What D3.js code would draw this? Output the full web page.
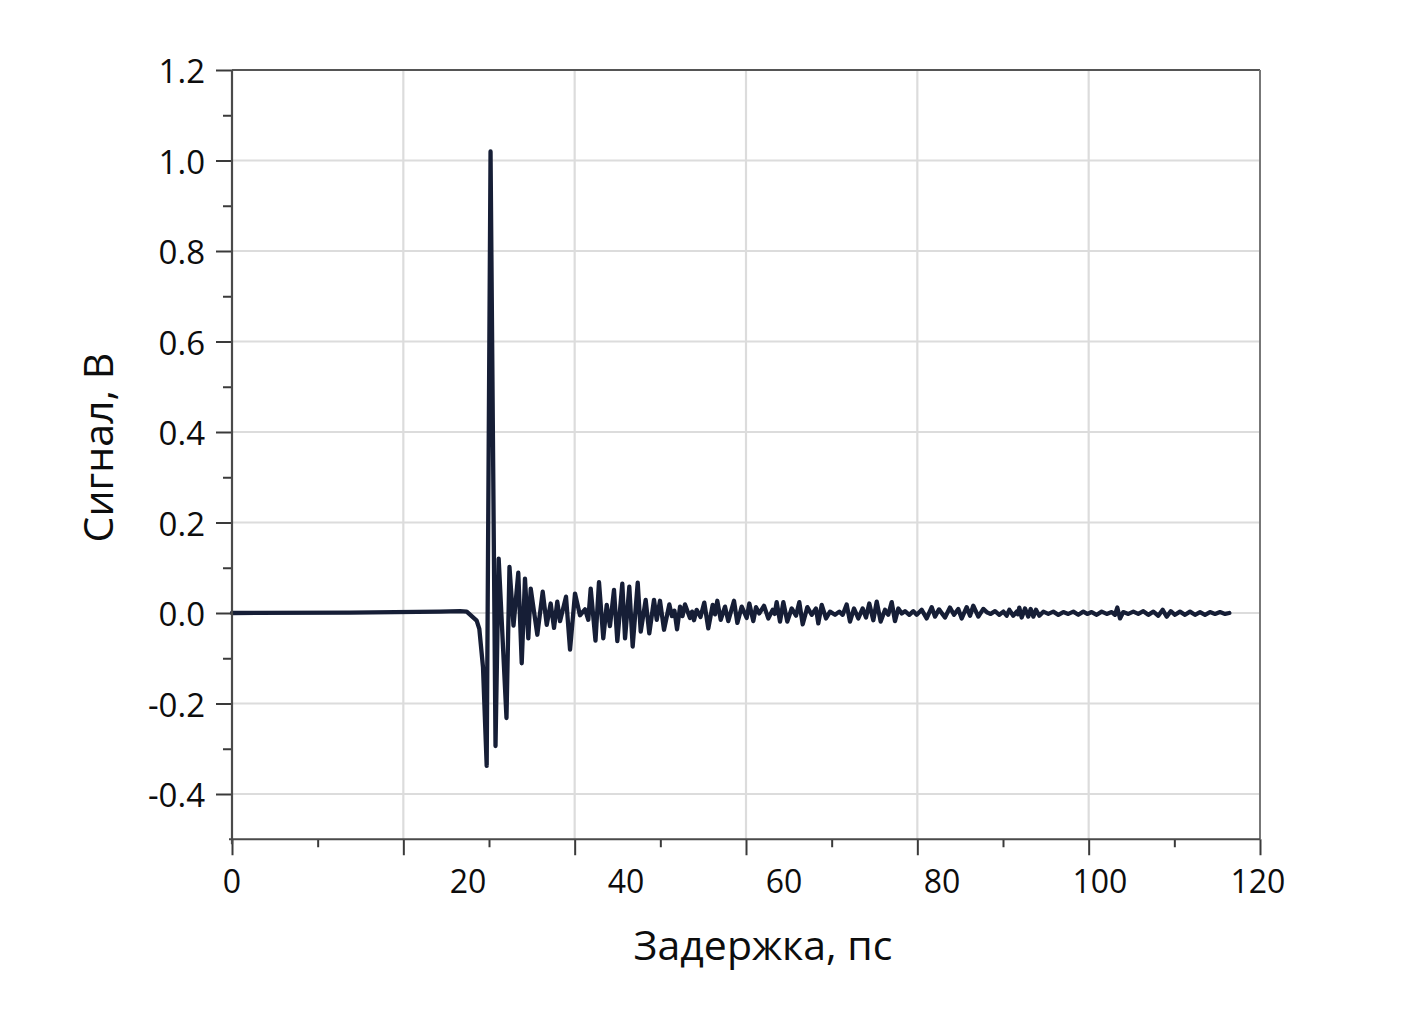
<!DOCTYPE html>
<html>
<head>
<meta charset="utf-8">
<script src="https://cdn.jsdelivr.net/npm/d3@7"></script>
<style>
  html, body { margin: 0; padding: 0; background: #ffffff; }
  svg { display: block; }
  text { font-family: "Open Sans", "Noto Sans", "DejaVu Sans", sans-serif; fill: #0d0d0d; }
</style>
</head>
<body>
<svg id="chart" width="1412" height="1018"></svg>
<script>
// ---- data ----
const xMajorTicks = [0, 20, 40, 60, 80, 100, 120];
const xMinorTicks = [10, 30, 50, 70, 90, 110];
const xTickLabels = ["0", "20", "40", "60", "80", "100", "120"];
const yMajorTicks = [-0.4, -0.2, 0, 0.2, 0.4, 0.6, 0.8, 1.0, 1.2];
const yMinorTicks = [-0.3, -0.1, 0.1, 0.3, 0.5, 0.7, 0.9, 1.1];
const yTickLabels = ["-0.4", "-0.2", "0.0", "0.2", "0.4", "0.6", "0.8", "1.0", "1.2"];
const xTitle = "Задержка, пс";
const yTitle = "Сигнал, В";

const delay = [
  0, 13.77, 24.28, 26.61, 27.40, 28.56, 28.87, 29.30, 29.73, 30.18,
  30.76, 31.13, 32.04, 32.39, 32.86, 33.42, 33.82, 34.20, 34.59, 34.87,
  35.64, 36.27, 36.74, 37.20, 37.59, 37.97, 38.29, 38.99, 39.46, 40.04,
  40.62, 41.21, 41.59, 41.87, 42.43, 42.84, 43.34, 43.74, 44.12, 44.59,
  44.98, 45.56, 45.88, 46.38, 46.77, 47.36, 47.71, 48.29, 48.71, 49.26,
  49.58, 49.96, 50.43, 51.05, 51.36, 51.65, 51.95, 52.30, 52.59, 52.88,
  53.46, 53.70, 53.93, 54.24, 54.69, 55.13, 55.60, 56.11, 56.38, 56.65,
  57.05, 57.55, 57.93, 58.60, 58.99, 59.50, 60.08, 60.39, 60.85, 61.17,
  61.55, 62.10, 62.60, 63.12, 63.35, 63.58, 63.97, 64.36, 64.82, 65.33,
  65.84, 66.22, 66.62, 67.16, 67.67, 68.17, 68.44, 68.84, 69.34, 69.81,
  70.39, 70.89, 71.29, 71.75, 72.14, 72.61, 73.11, 73.62, 74.01, 74.39,
  74.86, 75.26, 75.72, 76.23, 76.61, 77.01, 77.39, 77.78, 78.18, 78.56,
  79.06, 79.53, 79.93, 80.51, 81.09, 81.68, 82.06, 82.53, 83.23, 83.81,
  84.28, 84.78, 85.18, 85.76, 86.15, 86.53, 87.12, 87.70, 88.17, 88.56,
  89.07, 89.57, 90.04, 90.43, 90.74, 91.20, 91.60, 91.75, 91.90, 92.18,
  92.57, 92.95, 93.23, 93.54, 93.85, 94.24, 94.71, 95.29, 95.87, 96.46,
  97.04, 97.62, 98.21, 98.79, 99.37, 99.84, 100.35, 100.94, 101.52, 102.11,
  102.69, 103.07, 103.34, 103.66, 104.04, 104.63, 105.21, 105.79, 106.38, 106.96,
  107.55, 108.13, 108.64, 109.11, 109.58, 110.08, 110.66, 111.25, 111.83, 112.41,
  113.00, 113.58, 114.16, 114.75, 115.33, 115.92, 116.42
];
const signal = [
  0, 0.001, 0.003, 0.004, 0.003, -0.017, -0.035, -0.12, -0.338, 1.02,
  -0.294, 0.12, -0.232, 0.102, -0.028, 0.089, -0.111, 0.076, -0.056, 0.054,
  -0.048, 0.047, -0.026, 0.021, -0.033, 0.025, -0.018, 0.036, -0.081, 0.043,
  -0.005, 0.008, -0.015, 0.054, -0.061, 0.068, -0.056, 0.018, -0.029, 0.051,
  -0.062, 0.065, -0.056, 0.058, -0.074, 0.067, -0.041, 0.029, -0.045, 0.029,
  -0.015, 0.027, -0.037, 0.019, -0.007, 0.005, -0.036, 0.014, -0.007, 0.019,
  -0.011, 0.003, -0.016, 0.007, -0.009, 0.023, -0.034, 0.018, -0.003, 0.027,
  -0.015, 0.014, -0.018, 0.027, -0.022, 0.014, -0.011, 0.021, -0.018, 0.013,
  -0.001, 0.016, -0.012, 0.007, -0.002, 0.024, -0.019, 0.024, -0.019, 0.010,
  -0.006, 0.024, -0.025, 0.013, -0.004, 0.010, -0.023, 0.018, -0.012, 0.003,
  -0.004, 0.003, -0.004, 0.019, -0.019, 0.010, -0.012, 0.010, -0.010, 0.021,
  -0.016, 0.025, -0.019, 0.007, -0.004, 0.024, -0.018, 0.010, -0.001, 0.004,
  -0.004, 0.004, -0.004, 0.007, -0.012, 0.013, -0.008, 0.008, -0.010, 0.012,
  -0.004, 0.009, -0.012, 0.013, -0.006, 0.016, -0.008, 0.009, 0.001, -0.002,
  0.004, -0.004, 0.003, -0.006, 0.007, -0.006, 0.003, -0.003, 0.012, -0.010,
  0.010, -0.008, 0.009, -0.008, 0.007, -0.006, 0.003, -0.002, 0.003, -0.004,
  0.002, -0.002, 0.003, -0.004, 0.003, -0.002, 0.002, -0.004, 0.003, -0.002,
  0.002, -0.004, 0.012, -0.012, 0.002, -0.002, 0.003, -0.002, 0.004, -0.004,
  0.003, -0.006, 0.007, -0.008, 0.004, -0.004, 0.003, -0.004, 0.003, -0.004,
  0.002, -0.004, 0.002, -0.002, 0.002, -0.002, 0.000
];

// ---- layout ----
const svg = d3.select("#chart");
const W = 1412, H = 1018;
const margin = { left: 232, top: 70, right: 152, bottom: 178.75 };
const plotW = W - margin.left - margin.right;
const plotH = H - margin.top - margin.bottom;

svg.append("rect").attr("width", W).attr("height", H).attr("fill", "#ffffff");

const x = d3.scaleLinear().domain([0, 120]).range([margin.left, margin.left + plotW]);
const y = d3.scaleLinear().domain([-0.5, 1.2]).range([margin.top + plotH, margin.top]);

// tick label placement along the x axis (as printed in the source figure)
const labelX = d3.scaleLinear().domain([20, 120])
  .range([margin.left + plotW * 0.2296, margin.left + plotW * 0.998]);

const gridColor = "#dcdcdc";
const axisColor = "#4a4a4a";

// gridlines
const grid = svg.append("g");
grid.selectAll("line.vg").data(xMajorTicks.slice(1, -1)).enter().append("line")
  .attr("x1", d => x(d)).attr("x2", d => x(d))
  .attr("y1", y(1.2)).attr("y2", y(-0.5))
  .attr("stroke", gridColor).attr("stroke-width", 2.2);
grid.selectAll("line.hg").data(yMajorTicks.slice(0, -1)).enter().append("line")
  .attr("x1", x(0)).attr("x2", x(120))
  .attr("y1", d => y(d)).attr("y2", d => y(d))
  .attr("stroke", gridColor).attr("stroke-width", 2.2);

// frame (top & right)
svg.append("line").attr("x1", x(0)).attr("x2", x(120)).attr("y1", y(1.2)).attr("y2", y(1.2))
  .attr("stroke", "#555").attr("stroke-width", 2);
svg.append("line").attr("x1", x(120)).attr("x2", x(120)).attr("y1", y(1.2)).attr("y2", y(-0.5))
  .attr("stroke", "#777").attr("stroke-width", 2);

// data line
const pts = delay.map((d, i) => [d, signal[i]]);
const line = d3.line().x(d => x(d[0])).y(d => y(d[1]));
svg.append("path").datum(pts)
  .attr("d", line)
  .attr("fill", "none")
  .attr("stroke", "#161e36")
  .attr("stroke-width", 4.3)
  .attr("stroke-linejoin", "round")
  .attr("stroke-linecap", "round");

// x axis
const xAxisY = y(-0.5);
const xAxisMajor = d3.axisBottom(x).tickValues(xMajorTicks).tickSize(16).tickFormat("");
const xAxisMinor = d3.axisBottom(x).tickValues(xMinorTicks).tickSize(8).tickFormat("");
const gxMinor = svg.append("g").attr("transform", `translate(0,${xAxisY})`).call(xAxisMinor);
const gxMajor = svg.append("g").attr("transform", `translate(0,${xAxisY})`).call(xAxisMajor);
[gxMinor, gxMajor].forEach(g => {
  g.select(".domain").remove();
  g.selectAll(".tick line").attr("stroke", "#3a3a3a").attr("stroke-width", 2);
});
svg.append("line").attr("x1", x(0) - 3).attr("x2", x(120)).attr("y1", xAxisY).attr("y2", xAxisY)
  .attr("stroke", axisColor).attr("stroke-width", 2.2);

svg.append("g").selectAll("text").data(xMajorTicks).enter().append("text")
  .attr("x", (d, i) => i === 0 ? x(d) : labelX(d))
  .attr("y", xAxisY + 54)
  .attr("text-anchor", "middle")
  .attr("font-size", 32)
  .text((d, i) => xTickLabels[i]);

// y axis
const yAxisMajor = d3.axisLeft(y).tickValues(yMajorTicks).tickSize(16).tickFormat("");
const yAxisMinor = d3.axisLeft(y).tickValues(yMinorTicks).tickSize(9).tickFormat("");
const gyMinor = svg.append("g").attr("transform", `translate(${x(0)},0)`).call(yAxisMinor);
const gyMajor = svg.append("g").attr("transform", `translate(${x(0)},0)`).call(yAxisMajor);
[gyMinor, gyMajor].forEach(g => {
  g.select(".domain").remove();
  g.selectAll(".tick line").attr("stroke", "#3a3a3a").attr("stroke-width", 2);
});
svg.append("line").attr("x1", x(0)).attr("x2", x(0)).attr("y1", y(1.2)).attr("y2", xAxisY + 5)
  .attr("stroke", axisColor).attr("stroke-width", 2.2);

svg.append("g").selectAll("text").data(yMajorTicks).enter().append("text")
  .attr("x", x(0) - 27)
  .attr("y", d => y(d) + 13)
  .attr("text-anchor", "end")
  .attr("font-size", 33)
  .text((d, i) => yTickLabels[i]);

// titles
svg.append("text")
  .attr("x", margin.left + plotW / 2 + 17)
  .attr("y", 960)
  .attr("text-anchor", "middle")
  .attr("font-size", 41)
  .text(xTitle);

svg.append("text")
  .attr("transform", `translate(113,${margin.top + plotH / 2 - 7}) rotate(-90)`)
  .attr("text-anchor", "middle")
  .attr("font-size", 41)
  .text(yTitle);
</script>
</body>
</html>
